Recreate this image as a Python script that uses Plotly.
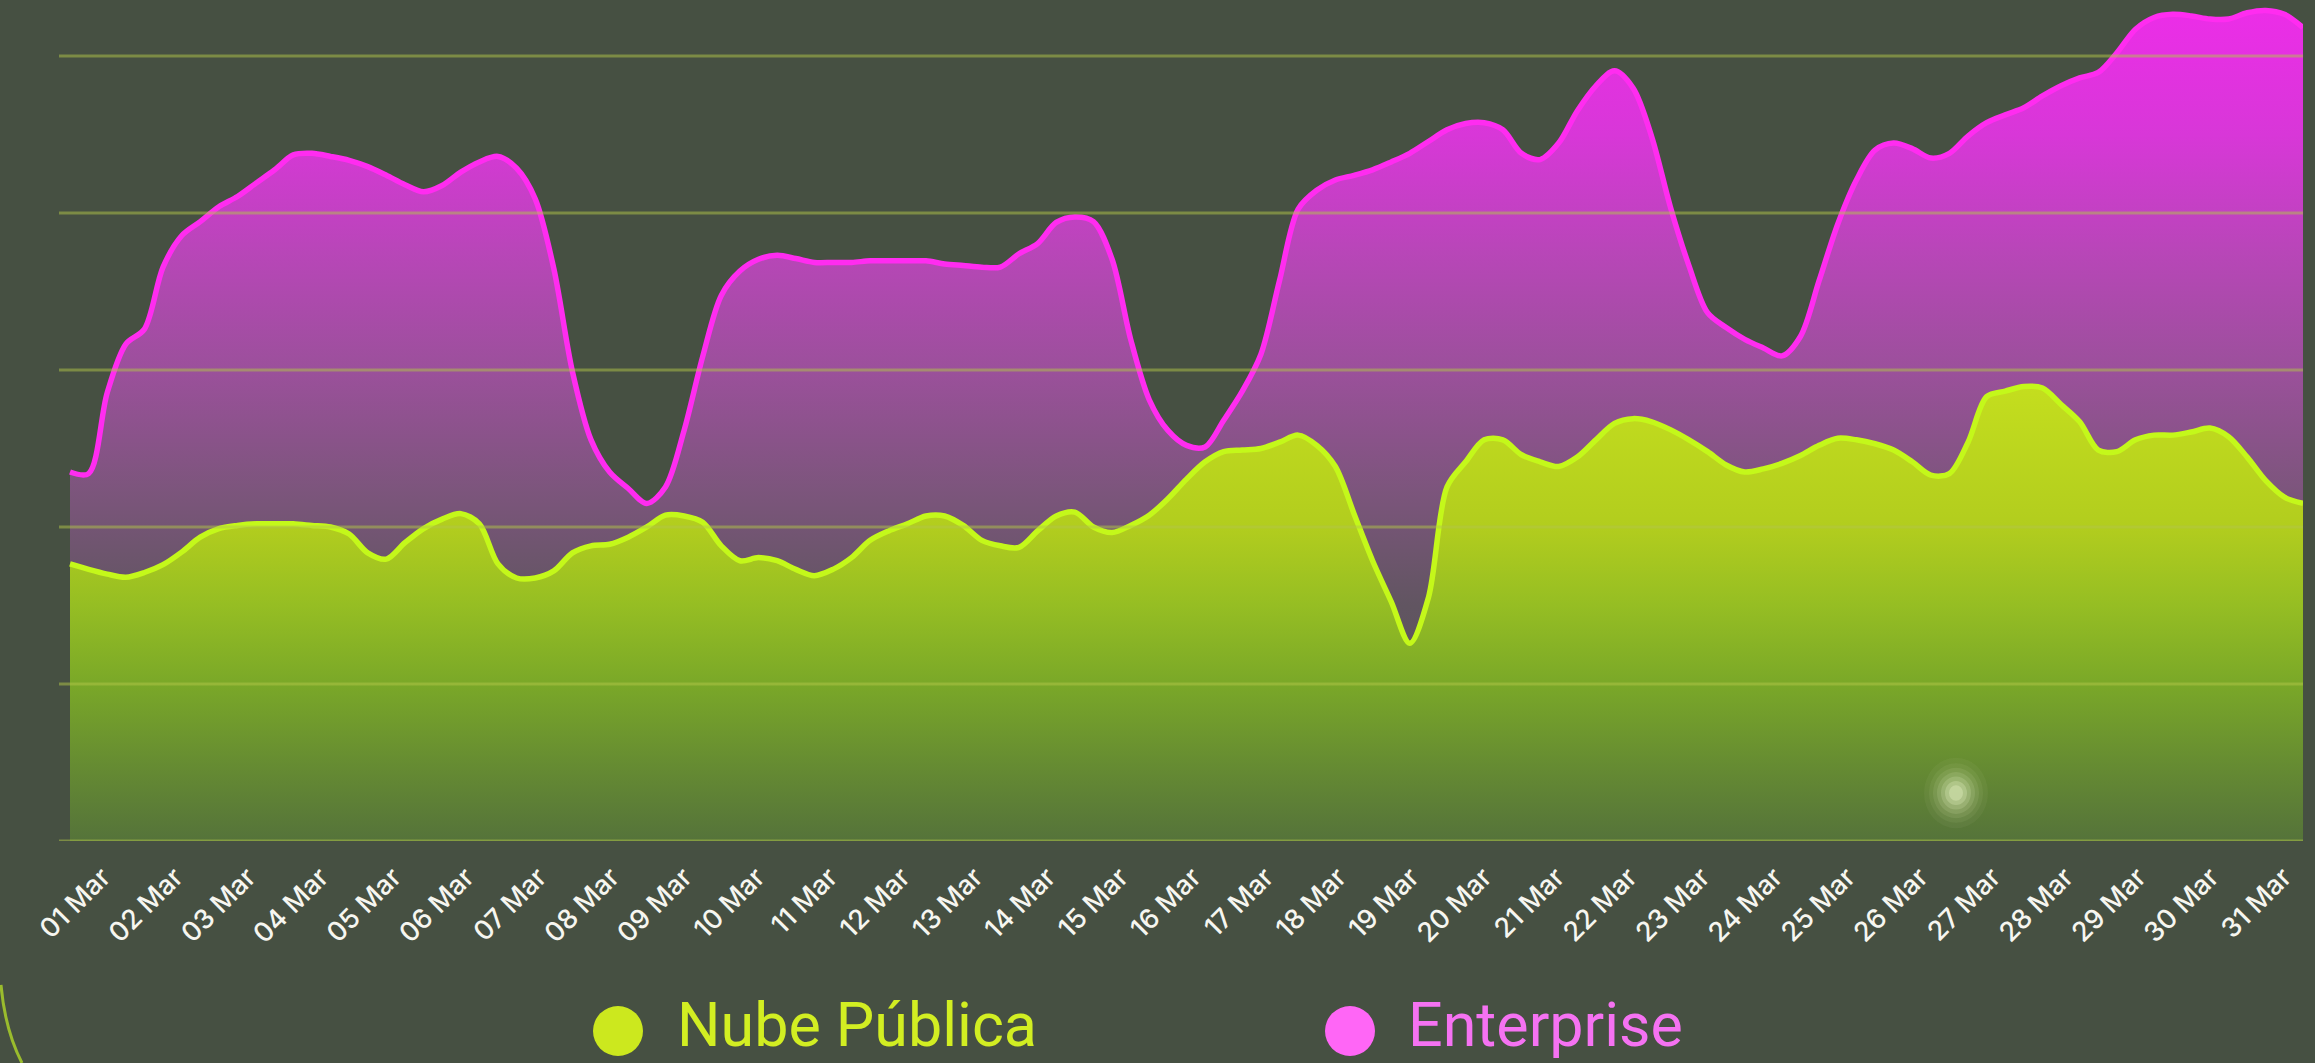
import plotly.graph_objects as go
import pandas as pd

# ---------------- data (6-hourly samples, 01 Mar 00:00 -> 31 Mar 00:00) ----------------
times = pd.date_range("2024-03-01 00:00", periods=121, freq="6h")

enterprise = [
    47.0, 46.8, 57.1, 63.3, 65.2, 73.1, 77.1, 78.9, 80.8, 82.1,
    83.8, 85.5, 87.4, 87.6, 87.2, 86.7, 85.9, 84.8, 83.6, 82.7,
    83.5, 85.2, 86.5, 87.2, 85.7, 81.8, 72.9, 59.8, 51.1, 47.0,
    44.9, 43.0, 45.1, 52.3, 61.7, 69.5, 72.6, 74.1, 74.6, 74.2,
    73.7, 73.7, 73.7, 73.9, 73.9, 73.9, 73.9, 73.5, 73.3, 73.1,
    73.1, 74.8, 76.1, 78.8, 79.5, 78.9, 74.1, 63.9, 56.2, 52.3,
    50.4, 50.2, 53.6, 57.3, 62.0, 71.4, 80.5, 82.9, 84.2, 84.8,
    85.5, 86.5, 87.6, 89.1, 90.6, 91.4, 91.5, 90.6, 87.6, 86.8,
    88.9, 93.0, 96.2, 98.1, 95.9, 89.7, 80.8, 73.3, 67.3, 65.4,
    63.9, 62.8, 61.8, 64.3, 71.4, 78.6, 84.2, 88.0, 88.9, 88.2,
    87.0, 87.6, 89.8, 91.5, 92.5, 93.4, 94.9, 96.2, 97.2, 97.9,
    100.4, 103.4, 104.9, 105.3, 105.1, 104.7, 104.7, 105.5, 105.8, 105.3,
    103.6,
]

nube_publica = [
    35.3, 34.6, 34.0, 33.6, 34.2, 35.2, 36.8, 38.7, 39.8, 40.2,
    40.4, 40.4, 40.4, 40.2, 40.0, 39.1, 36.7, 35.9, 38.0, 39.8,
    41.0, 41.7, 40.4, 35.3, 33.5, 33.5, 34.4, 36.7, 37.6, 37.8,
    38.7, 40.0, 41.5, 41.4, 40.6, 37.6, 35.7, 36.1, 35.7, 34.6,
    33.8, 34.6, 36.1, 38.3, 39.5, 40.4, 41.4, 41.4, 40.2, 38.3,
    37.6, 37.4, 39.5, 41.4, 41.9, 40.0, 39.3, 40.2, 41.5, 43.6,
    46.1, 48.3, 49.6, 49.8, 50.0, 50.8, 51.7, 50.4, 47.7, 41.7,
    35.7, 30.5, 25.2, 31.0, 45.1, 48.3, 51.1, 51.1, 49.2, 48.3,
    47.7, 48.9, 51.1, 53.2, 53.8, 53.4, 52.4, 51.1, 49.6, 47.9,
    47.0, 47.4, 48.1, 49.1, 50.4, 51.3, 51.1, 50.6, 49.8, 48.3,
    46.6, 46.8, 50.8, 56.6, 57.3, 57.9, 57.7, 55.6, 53.4, 49.8,
    49.6, 51.1, 51.7, 51.7, 52.1, 52.6, 51.5, 48.9, 45.9, 43.8,
    43.0,
]

tick_dates = pd.date_range("2024-03-01", periods=31, freq="D")
tick_labels = [
    "01 Mar", "02 Mar", "03 Mar", "04 Mar", "05 Mar", "06 Mar", "07 Mar", "08 Mar",
    "09 Mar", "10 Mar", "11 Mar", "12 Mar", "13 Mar", "14 Mar", "15 Mar", "16 Mar",
    "17 Mar", "18 Mar", "19 Mar", "20 Mar", "21 Mar", "22 Mar", "23 Mar", "24 Mar",
    "25 Mar", "26 Mar", "27 Mar", "28 Mar", "29 Mar", "30 Mar", "31 Mar",
]
grid_values = [0, 20, 40, 60, 80, 100]
series_names = ["Nube Pública", "Enterprise"]

# ---------------- layout geometry (pixels) ----------------
W, H = 2315, 1063
L, R, T, B = 59, 12, 1, 222
PW, PH = W - L - R, H - T - B


def px_x(px):
    return (px - L) / PW


def px_y(py):
    return (H - B - py) / PH


BG = "#465042"
TICK_FONT = "Inter"
LEG_FONT = "Roboto"

base = pd.Timestamp("2024-03-01")
# data axis: first sample sits 11 px right of the plot's left edge, last sample at the right edge
day_px = (PW - 11) / 30.0
x_range = [base - pd.Timedelta(days=11 / day_px), base + pd.Timedelta(days=30)]
# label axis: the date labels are spaced a little tighter than the data
lab_first, lab_step = 102.5, 72.7
x2_range = [base - pd.Timedelta(days=(lab_first - L) / lab_step),
            base + pd.Timedelta(days=(L + PW - lab_first) / lab_step)]

fig = go.Figure()

fig.add_trace(go.Scatter(
    x=times, y=enterprise, name=series_names[1], mode="lines",
    line=dict(color="#ff2cf0", width=5.5, shape="spline", smoothing=0.9),
    fill="tozeroy",
    fillgradient=dict(
        type="vertical", start=0, stop=106,
        colorscale=[
            [0.0, "rgb(85,82,85)"],
            [0.283, "rgb(97,85,97)"],
            [0.425, "rgb(125,85,125)"],
            [0.566, "rgb(155,80,155)"],
            [0.708, "rgb(184,70,184)"],
            [0.849, "rgb(216,55,216)"],
            [1.0, "rgb(236,45,232)"],
        ],
    ),
    hoverinfo="skip", showlegend=False,
))

fig.add_trace(go.Scatter(
    x=times, y=nube_publica, name=series_names[0], mode="lines",
    line=dict(color="#c4f81a", width=5.5, shape="spline", smoothing=0.9),
    fill="tozeroy",
    fillgradient=dict(
        type="vertical", start=0, stop=58,
        colorscale=[
            [0.0, "rgb(85,115,58)"],
            [0.17, "rgb(102,140,50)"],
            [0.345, "rgb(122,168,40)"],
            [0.52, "rgb(150,190,35)"],
            [0.69, "rgb(178,205,30)"],
            [1.0, "rgb(196,222,30)"],
        ],
    ),
    hoverinfo="skip", showlegend=False,
))

# invisible trace that carries the label axis
fig.add_trace(go.Scatter(x=[tick_dates[0]], y=[None], xaxis="x2", yaxis="y",
                         mode="lines", hoverinfo="skip", showlegend=False))

# grid lines drawn above the fills
for g in grid_values:
    fig.add_shape(type="line", xref="paper", x0=0, x1=1, yref="y", y0=g, y1=g,
                  line=dict(color="rgba(178,198,72,0.5)", width=3), layer="above")

# soft glow decoration
for r, op in [(32, 0.05), (27, 0.07), (23, 0.10), (19, 0.14), (15, 0.20), (11, 0.30), (7, 0.40)]:
    fig.add_shape(type="circle", xref="paper", yref="paper",
                  xsizemode="pixel", ysizemode="pixel",
                  xanchor=px_x(1956), yanchor=px_y(793),
                  x0=-r, x1=r, y0=-r * 1.1, y1=r * 1.1,
                  fillcolor="rgba(226,238,190,%.2f)" % op, line=dict(width=0),
                  layer="above")

# faint decorative arc in the lower-left corner
fig.add_shape(type="path", xref="paper", yref="paper",
              path="M %.5f %.5f Q %.5f %.5f %.5f %.5f" % (
                  px_x(1), px_y(985), px_x(5), px_y(1030), px_x(22), px_y(1063)),
              line=dict(color="rgba(175,215,40,0.8)", width=3), layer="above")

# custom legend
legend_items = [
    (618, 676, "#cce81e", "#d2ee22", series_names[0]),
    (1350, 1407, "#ff66f6", "#f572f2", series_names[1]),
]
for cx, tx, mcol, tcol, label in legend_items:
    fig.add_shape(type="circle", xref="paper", yref="paper",
                  xsizemode="pixel", ysizemode="pixel",
                  xanchor=px_x(cx), yanchor=px_y(1031),
                  x0=-25, x1=25, y0=-25, y1=25,
                  fillcolor=mcol, line=dict(width=0))
    fig.add_annotation(xref="paper", yref="paper", x=px_x(tx), y=px_y(1025),
                       xanchor="left", yanchor="middle", showarrow=False,
                       borderpad=0,
                       text=label, font=dict(family=LEG_FONT, size=61, color=tcol))

fig.update_layout(
    template="none",
    width=W, height=H,
    margin=dict(l=L, r=R, t=T, b=B, autoexpand=False),
    paper_bgcolor=BG, plot_bgcolor="rgba(0,0,0,0)",
    showlegend=False,
    font=dict(family=TICK_FONT, color="white"),
    xaxis=dict(
        type="date", range=x_range, showticklabels=False,
        showgrid=False, zeroline=False, showline=False, ticks="",
        automargin=False, fixedrange=True,
    ),
    xaxis2=dict(
        type="date", range=x2_range, overlaying="x", anchor="y", side="bottom",
        tickvals=tick_dates, ticktext=tick_labels, tickangle=-45,
        tickfont=dict(family=TICK_FONT, size=27, color="#f6f6f0", weight=500),
        ticklabelstandoff=14,
        showgrid=False, zeroline=False, showline=False, ticks="",
        automargin=False, fixedrange=True,
    ),
    yaxis=dict(
        range=[0, 107], showgrid=False, zeroline=False, showline=False,
        showticklabels=False, ticks="", automargin=False, fixedrange=True,
    ),
)

fig.write_html(
    "out.html",
    config={"displayModeBar": False, "staticPlot": True},
    post_script="document.body.style.margin='0px';document.body.style.overflow='hidden';",
)
